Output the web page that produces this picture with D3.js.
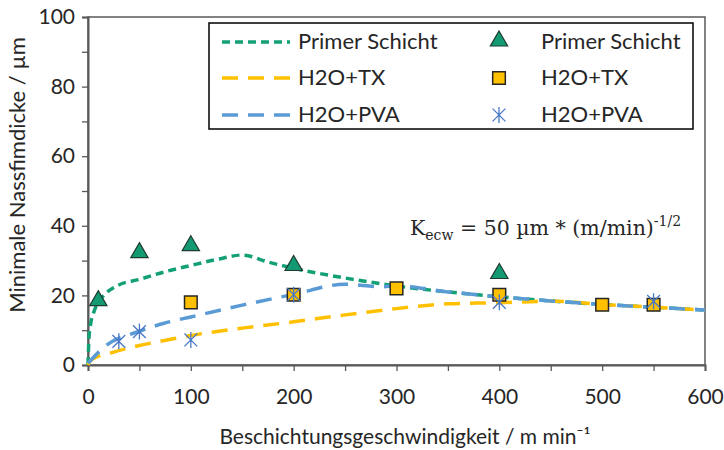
<!DOCTYPE html>
<html>
<head>
<meta charset="utf-8">
<script src="https://cdn.jsdelivr.net/npm/d3@7"></script>
<style>
  body { margin: 0; background: #fff; }
  text { font-family: Lato, "Open Sans", sans-serif; fill: #262626; }
</style>
</head>
<body>
<div id="chart"></div>
<script>
// Size constants
var totWidth = 724,
    totHeight = 450;
var plot = {left: 88, right: 705, top: 17, bottom: 365};

// Data
var xTicks = [0, 100, 200, 300, 400, 500, 600];
var yTicks = [0, 20, 40, 60, 80, 100];

// fitted lines (x = m/min, y = µm)
var primerLineX = [0, 1, 3, 6, 10, 16, 30, 50, 75, 100, 125, 150, 175, 200, 250, 300, 350, 400, 450, 500, 550, 600];
var primerLineY = [0, 8, 12.5, 15.5, 18, 20.2, 23, 24.6, 26.8, 28.6, 30.3, 31.6, 29.6, 27.8, 25, 22.7, 21, 19.6, 18.4, 17.4, 16.6, 15.8];
var txLineX = [0, 3, 25, 50, 77, 100, 150, 200, 250, 300, 350, 400, 430, 450, 500, 550, 600];
var txLineY = [0, 1.4, 3.7, 5.6, 7.2, 8.5, 10.6, 12.4, 14.4, 16.2, 17.6, 17.9, 18.2, 18.4, 17.4, 16.6, 15.8];
var pvaLineX = [0, 18, 48, 74, 100, 150, 200, 250, 285, 300, 350, 400, 450, 500, 550, 600];
var pvaLineY = [0.5, 5.7, 9.5, 12, 13.8, 17.2, 20.3, 23.2, 22.5, 22.7, 21, 19.6, 18.4, 17.4, 16.6, 15.8];

// measured points
var primerPtsX = [10, 50, 100, 200, 400];
var primerPtsY = [18.2, 32, 34, 28.3, 26];
var txPtsX = [100, 200, 300, 400, 500, 550];
var txPtsY = [18, 20.2, 22, 20.2, 17.3, 17.3];
var pvaPtsX = [30, 50, 100, 200, 400, 550];
var pvaPtsY = [6.8, 9.6, 7.2, 20.2, 18, 18.3];

var green = "#13a077", gold = "#ffc000", blue = "#5b9bd5", starBlue = "#4a78c8";
var fs = "21px";

var svg = d3.select("#chart").append("svg")
  .attr("width", totWidth)
  .attr("height", totHeight);

var x = d3.scaleLinear().domain([0, 600]).range([plot.left, plot.right]);
var y = d3.scaleLinear().domain([0, 100]).range([plot.bottom, plot.top]);

// plot frame
svg.append("rect")
  .attr("x", plot.left).attr("y", plot.top)
  .attr("width", plot.right - plot.left).attr("height", plot.bottom - plot.top)
  .attr("fill", "none").attr("stroke", "#595959").attr("stroke-width", 1.5);

// X axis: ticks every 50, labels every 100
var xAxis = svg.append("g")
  .attr("transform", "translate(0," + plot.bottom + ")")
  .call(d3.axisBottom(x)
    .tickValues(d3.range(0, 601, 50))
    .tickSize(6)
    .tickFormat(function(d) { return xTicks.indexOf(d) >= 0 ? d : ""; }));
xAxis.select(".domain").attr("stroke", "#595959").attr("stroke-width", 2);
xAxis.selectAll(".tick line").attr("stroke", "#595959").attr("stroke-width", 1.3);
xAxis.selectAll(".tick text")
  .attr("y", 24).attr("font-size", fs).attr("fill", "#262626")
  .style("font-family", "Lato, sans-serif");

// Y axis: ticks every 10, labels every 20
var yAxis = svg.append("g")
  .attr("transform", "translate(" + plot.left + ",0)")
  .call(d3.axisLeft(y)
    .tickValues(d3.range(0, 101, 10))
    .tickSize(6)
    .tickFormat(function(d) { return yTicks.indexOf(d) >= 0 ? d : ""; }));
yAxis.select(".domain").attr("stroke", "#595959").attr("stroke-width", 2);
yAxis.selectAll(".tick line").attr("stroke", "#595959").attr("stroke-width", 1.3);
yAxis.selectAll(".tick text")
  .attr("x", -13).attr("font-size", fs).attr("fill", "#262626")
  .style("font-family", "Lato, sans-serif");

// axis titles
svg.append("text")
  .attr("transform", "translate(25,175) rotate(-90)")
  .attr("text-anchor", "middle")
  .attr("font-size", "22px")
  .text("Minimale Nassfimdicke / µm");

svg.append("text")
  .attr("x", 405).attr("y", 444)
  .attr("text-anchor", "middle")
  .attr("font-size", fs)
  .text("Beschichtungsgeschwindigkeit / m min⁻¹");

// lines
var line = d3.line()
  .x(function(d) { return x(d[0]); })
  .y(function(d) { return y(d[1]); })
  .curve(d3.curveMonotoneX);

function zip(a, b) { return a.map(function(v, i) { return [v, b[i]]; }); }

var series = [
  {pts: zip(primerLineX, primerLineY), color: green, dash: "8,5"},
  {pts: zip(txLineX, txLineY), color: gold, dash: "16,10"},
  {pts: zip(pvaLineX, pvaLineY), color: blue, dash: "16,10"}
];

svg.selectAll("path.fit")
  .data(series)
  .enter()
  .append("path")
    .attr("class", "fit")
    .attr("d", function(d) { return line(d.pts); })
    .attr("fill", "none")
    .attr("stroke", function(d) { return d.color; })
    .attr("stroke-width", 3.5)
    .attr("stroke-dasharray", function(d) { return d.dash; });

// markers
var tri = d3.symbol().type(d3.symbolTriangle).size(130);
var sq = d3.symbol().type(d3.symbolSquare).size(160);
function starPath(r) {
  var a = r * 0.8;
  return "M0," + (-r) + "L0," + r +
    "M" + (-a) + "," + (-a) + "L" + a + "," + a +
    "M" + (-a) + "," + a + "L" + a + "," + (-a);
}

function drawTriangle(g, cx, cy) {
  g.append("path").attr("d", tri())
    .attr("transform", "translate(" + cx + "," + (cy - 1) + ")")
    .attr("fill", "#139a73").attr("stroke", "#1e3b30").attr("stroke-width", 1.2);
}
function drawSquare(g, cx, cy) {
  g.append("path").attr("d", sq())
    .attr("transform", "translate(" + cx + "," + cy + ")")
    .attr("fill", gold).attr("stroke", "#262626").attr("stroke-width", 1.5);
}
function drawStar(g, cx, cy) {
  g.append("path").attr("d", starPath(8))
    .attr("transform", "translate(" + cx + "," + cy + ")")
    .attr("fill", "none").attr("stroke", starBlue).attr("stroke-width", 1.3);
}

var marks = svg.append("g");
primerPtsX.forEach(function(v, i) { drawTriangle(marks, x(v), y(primerPtsY[i])); });
txPtsX.forEach(function(v, i) { drawSquare(marks, x(v), y(txPtsY[i])); });
pvaPtsX.forEach(function(v, i) { drawStar(marks, x(v), y(pvaPtsY[i])); });

// legend
var legend = svg.append("g");
legend.append("rect")
  .attr("x", 209).attr("y", 23).attr("width", 484).attr("height", 106)
  .attr("fill", "#fff").attr("stroke", "#000").attr("stroke-width", 1.5);

var legendNames = ["Primer Schicht", "H2O+TX", "H2O+PVA"];
var rowY = [42, 78, 115];
legendNames.forEach(function(name, i) {
  legend.append("line")
    .attr("x1", 222).attr("x2", 290).attr("y1", rowY[i]).attr("y2", rowY[i])
    .attr("stroke", series[i].color).attr("stroke-width", 3.5)
    .attr("stroke-dasharray", i === 0 ? "8,5" : "16,10");
  legend.append("text")
    .attr("x", 298).attr("y", rowY[i] + 7)
    .attr("font-size", "22px")
    .text(name);
  if (i === 0) drawTriangle(legend, 499, rowY[i]);
  if (i === 1) drawSquare(legend, 499, rowY[i]);
  if (i === 2) drawStar(legend, 499, rowY[i]);
  legend.append("text")
    .attr("x", 541).attr("y", rowY[i] + 7)
    .attr("font-size", "22px")
    .text(name);
});

// annotation
var ann = svg.append("text")
  .attr("x", 410).attr("y", 235)
  .style("font-family", "'DejaVu Serif', 'Liberation Serif', serif")
  .attr("font-size", "20.5px");
ann.append("tspan").text("K");
ann.append("tspan").attr("dy", 5).attr("font-size", "14px").text("ecw");
ann.append("tspan").attr("dy", -5).text(" =  50 µm * (m/min)");
ann.append("tspan").attr("dy", -9).attr("font-size", "14px").text("-1/2");
</script>
</body>
</html>
